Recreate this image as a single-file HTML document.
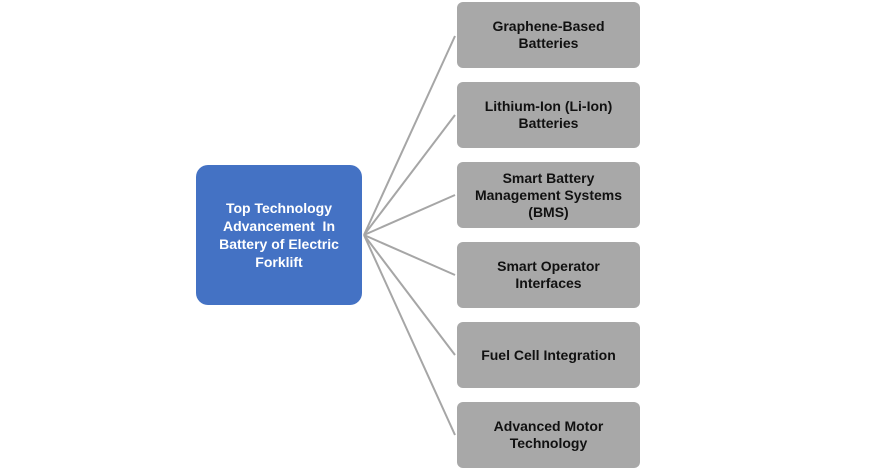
<!DOCTYPE html><html><head><style>
body{margin:0;width:873px;height:470px;background:#fff;position:relative;font-family:"Liberation Sans",Arial,sans-serif;overflow:hidden}
.b{position:absolute;left:457px;width:183px;height:66px;background:#a8a8a8;border-radius:6px;display:flex;align-items:center;justify-content:center;text-align:center;font-weight:bold;font-size:14px;line-height:17px;color:#111}
.c{position:absolute;left:196px;top:165px;width:166px;height:140px;background:#4472c4;border-radius:12px;display:flex;align-items:center;justify-content:center;text-align:center;font-weight:bold;font-size:14px;line-height:18px;color:#fff}
svg{position:absolute;left:0;top:0}
</style></head><body>
<svg width="873" height="470"><g stroke="#a6a6a6" stroke-width="2">
<line x1="364" y1="235" x2="455" y2="36"/><line x1="364" y1="235" x2="455" y2="115"/><line x1="364" y1="235" x2="455" y2="195"/><line x1="364" y1="235" x2="455" y2="275"/><line x1="364" y1="235" x2="455" y2="355"/><line x1="364" y1="235" x2="455" y2="435"/></g></svg>
<div class="c">Top Technology<br>Advancement&nbsp; In<br>Battery of Electric<br>Forklift</div>
<div class="b" style="top:2px">Graphene-Based<br>Batteries</div>
<div class="b" style="top:82px">Lithium-Ion (Li-Ion)<br>Batteries</div>
<div class="b" style="top:162px">Smart Battery<br>Management Systems<br>(BMS)</div>
<div class="b" style="top:242px">Smart Operator<br>Interfaces</div>
<div class="b" style="top:322px">Fuel Cell Integration</div>
<div class="b" style="top:402px">Advanced Motor<br>Technology</div>
</body></html>
